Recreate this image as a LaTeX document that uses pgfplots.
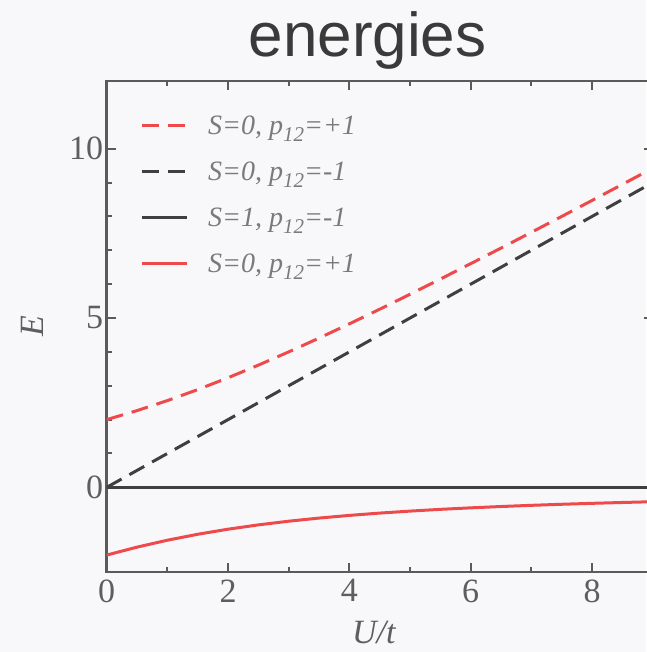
\documentclass[border=0pt]{standalone}
\usepackage{fontspec}
\setmainfont{Liberation Serif}
\newfontfamily\titlefont{Liberation Sans}
\usepackage{pgfplots}
\pgfplotsset{compat=1.18}
\definecolor{bg}{HTML}{F8F8FA}
\definecolor{lred}{HTML}{EE4A4C}
\definecolor{dgray}{HTML}{3F3F3F}
\definecolor{axgray}{HTML}{5A5A5A}
\definecolor{txtgray}{HTML}{5E5E5E}
\definecolor{leggray}{HTML}{7A7A7A}
\definecolor{titlegray}{HTML}{3A3A3A}
\newcommand{\sub}[1]{\raisebox{-7pt}{\fontsize{21}{24}\selectfont #1}}
\begin{document}
\begin{tikzpicture}
\path[use as bounding box, fill=bg] (0,0) rectangle (646pt,652pt);
\node[font=\titlefont\fontsize{62}{70}\selectfont, text=titlegray, anchor=base, inner sep=0pt] at (367.5pt,595pt) {energies};
\begin{axis}[
  at={(106.7pt,80pt)}, anchor=south west,
  scale only axis, width=546pt, height=491pt,
  xmin=0, xmax=9, ymin=-2.5, ymax=12,
  xtick={0,2,4,6,8}, minor x tick num=1,
  ytick={0,5,10}, minor y tick num=4,
  major tick length=9pt, minor tick length=5pt,
  tick style={axgray, line width=2pt},
  axis line style={axgray, line width=2.5pt},
  /pgf/number format/assume math mode=true,
  ticklabel style={font=\fontsize{34}{40}\selectfont, text=txtgray},
  xticklabel style={yshift=-4pt},
  xlabel={\textit{U/t}}, ylabel={\textit{E}},
  label style={font=\fontsize{34}{40}\selectfont, text=txtgray},
  xlabel style={at={(axis description cs:0.49,-0.124)}, anchor=center},
  ylabel style={at={(axis description cs:-0.1355,0.5)}, anchor=center},
  legend style={draw=none, fill=none, at={(axis description cs:0.061,0.937)}, anchor=north west,
    inner sep=0pt, row sep=20pt, column sep=20pt,
    nodes={inner sep=0pt, text height=22pt, text depth=4pt, text=leggray, font=\fontsize{28}{32}\selectfont}},
  legend cell align=left,
  legend image code/.code={\draw[#1] (0pt,0pt) -- (45pt,0pt);},
]
\addplot[lred, line width=3pt, dash pattern=on 17pt off 9pt] coordinates {
(0,2.0) (0.5,2.2656) (1,2.5616) (1.5,2.8860) (2,3.2361) (2.5,3.6085) (3,4.0) (3.5,4.4075)
(4,4.8284) (4.5,5.2604) (5,5.7016) (5.5,6.1504) (6,6.6056) (6.5,7.0661) (7,7.5311)
(7.5,8.0) (8,8.4721) (8.5,8.9471) (9,9.4244)};
\addlegendentry{\textit{S=0, p\sub{12}=+1}}
\addplot[dgray, line width=3pt, dash pattern=on 17pt off 9pt] coordinates {
(0,0) (1,1) (2,2) (3,3) (4,4) (5,5) (6,6) (7,7) (8,8) (9,9)};
\addlegendentry{\textit{S=0, p\sub{12}=-1}}
\addplot[dgray, line width=3pt] coordinates {(0,0) (9,0)};
\addlegendentry{\textit{S=1, p\sub{12}=-1}}
\addplot[lred, line width=3pt] coordinates {
(0,-2.0) (0.5,-1.7656) (1,-1.5616) (1.5,-1.3860) (2,-1.2361) (2.5,-1.1085) (3,-1.0) (3.5,-0.9075)
(4,-0.8284) (4.5,-0.7604) (5,-0.7016) (5.5,-0.6496) (6,-0.6056) (6.5,-0.5661) (7,-0.5311)
(7.5,-0.5) (8,-0.4721) (8.5,-0.4471) (9,-0.4244)};
\addlegendentry{\textit{S=0, p\sub{12}=+1}}
\end{axis}
\end{tikzpicture}
\end{document}
